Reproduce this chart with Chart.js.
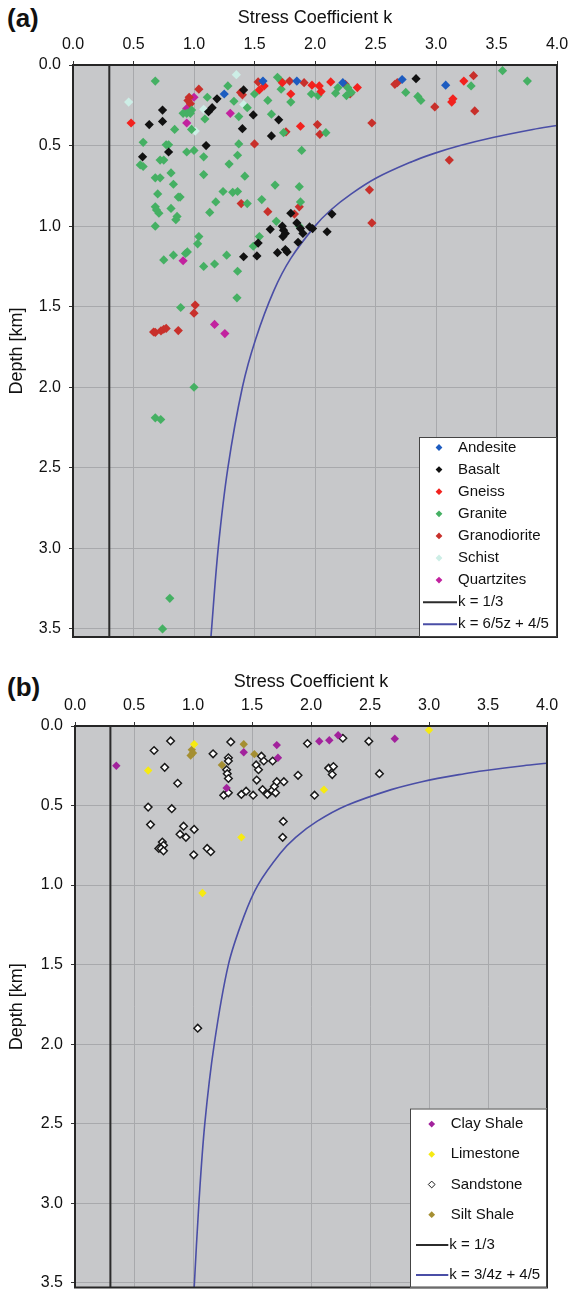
<!DOCTYPE html>
<html>
<head>
<meta charset="utf-8">
<script src="https://cdn.jsdelivr.net/npm/chart.js@4.4.1/dist/chart.umd.min.js"></script>
<style>
  html, body { margin: 0; padding: 0; background: #fff; }
  body { width: 568px; height: 1293px; position: relative; overflow: hidden; font-family: "Liberation Sans", Arial, sans-serif; }
  .wrap { position: absolute; left: 0; width: 568px; }
  .tag { position: absolute; left: 7px; font-weight: bold; font-size: 26px; color: #111; }
</style>
</head>
<body>
<div class="tag" style="top:3px">(a)</div>
<div class="wrap" style="top:0;height:645px"><canvas id="chartA"></canvas></div>
<div class="tag" style="top:672px">(b)</div>
<div class="wrap" style="top:661px;height:632px"><canvas id="chartB"></canvas></div>
<script>
// values: [k, depth km]
const xTicks = [0, 0.5, 1, 1.5, 2, 2.5, 3, 3.5, 4];
const yTicks = [0, 0.5, 1, 1.5, 2, 2.5, 3, 3.5];

// ---- panel (a) ----
const andesite = [[1.25,0.18],[1.57,0.10],[1.85,0.10],[2.23,0.11],[2.72,0.09],[3.08,0.125]];
const basalt = [[0.63,0.37],[0.74,0.28],[0.74,0.35],[1.12,0.29],[1.15,0.265],[1.19,0.21],[1.41,0.155],
  [1.40,0.395],[1.49,0.31],[1.70,0.34],[1.64,0.44],[0.575,0.57],[0.79,0.54],[1.10,0.50],[1.41,1.19],
  [1.52,1.185],[1.53,1.105],[1.63,1.02],[1.69,1.165],[1.73,1.0],[1.74,1.025],[1.755,1.045],[1.735,1.065],
  [1.755,1.145],[1.77,1.16],[1.80,0.92],[1.85,0.98],[1.86,1.10],[1.88,1.015],[1.90,1.045],[1.955,1.005],
  [1.98,1.015],[2.10,1.035],[2.14,0.925],[2.835,0.085]];
const gneiss = [[0.48,0.36],[1.54,0.155],[1.58,0.13],[1.73,0.11],[1.80,0.18],[1.88,0.38],[1.975,0.125],
  [2.035,0.13],[2.05,0.165],[2.13,0.105],[2.35,0.14],[3.13,0.23],[3.14,0.21],[3.23,0.10]];
const granite = [[0.68,0.10],[0.84,0.40],[0.91,0.30],[0.94,0.30],[0.98,0.28],[0.97,0.30],[0.98,0.40],
  [1.09,0.335],[1.11,0.20],[1.28,0.13],[1.33,0.225],[1.44,0.265],[1.37,0.32],[1.50,0.18],[1.69,0.076],
  [1.61,0.22],[1.64,0.305],[1.74,0.42],[1.72,0.10],[1.72,0.15],[1.80,0.23],[1.89,0.53],[0.58,0.48],
  [0.556,0.62],[0.58,0.63],[0.72,0.59],[0.75,0.59],[0.77,0.495],[0.79,0.495],[0.94,0.54],[1.00,0.53],
  [1.08,0.57],[1.08,0.68],[0.68,0.70],[0.72,0.70],[0.81,0.67],[0.83,0.74],[0.70,0.80],[0.87,0.82],
  [0.885,0.82],[0.68,0.88],[0.69,0.90],[0.71,0.92],[0.81,0.89],[0.85,0.96],[0.86,0.94],[0.68,1.0],
  [1.13,0.915],[1.18,0.85],[1.24,0.785],[1.32,0.79],[1.36,0.785],[1.44,0.86],[1.29,0.615],[1.37,0.49],
  [1.36,0.56],[1.42,0.69],[1.56,0.835],[1.67,0.745],[1.68,0.97],[1.04,1.065],[1.03,1.11],[0.945,1.16],
  [0.93,1.17],[0.83,1.18],[0.75,1.21],[1.08,1.25],[1.17,1.235],[1.27,1.18],[1.36,1.28],[1.49,1.125],
  [1.54,1.065],[1.87,0.755],[1.88,0.85],[1.87,1.0],[1.355,1.445],[0.89,1.505],[1.97,0.18],[2.025,0.19],
  [2.17,0.175],[2.19,0.14],[2.26,0.19],[2.27,0.14],[2.30,0.17],[2.09,0.42],[2.75,0.17],[2.85,0.195],
  [2.875,0.22],[3.29,0.13],[3.55,0.035],[3.755,0.10],[1.00,2.0],[0.68,2.19],[0.725,2.20],[0.80,3.31],
  [0.74,3.50]];
const granodiorite = [[1.04,0.15],[0.96,0.20],[0.95,0.22],[0.97,0.24],[1.385,0.17],[1.40,0.185],[1.53,0.105],
  [1.76,0.415],[1.50,0.49],[1.79,0.10],[1.91,0.11],[1.39,0.86],[1.61,0.91],[1.83,0.925],[1.87,0.88],
  [1.01,1.49],[1.00,1.54],[2.45,0.775],[2.47,0.98],[3.11,0.59],[2.47,0.36],[2.25,0.12],[2.29,0.18],
  [2.02,0.37],[2.04,0.43],[2.66,0.12],[2.68,0.11],[2.99,0.26],[3.31,0.066],[3.32,0.285],[0.666,1.657],
  [0.68,1.66],[0.727,1.65],[0.75,1.64],[0.77,1.635],[0.87,1.648]];
const schist = [[0.46,0.23],[1.01,0.41],[1.08,0.275],[1.35,0.06],[1.41,0.245]];
const quartzites = [[1.0,0.20],[0.94,0.27],[0.94,0.36],[1.30,0.30],[0.91,1.215],[1.17,1.61],[1.255,1.667]];
const curveADepth = [0.375, 0.4, 0.45, 0.5, 0.55, 0.6, 0.7, 0.8, 0.9, 1.0, 1.2, 1.4, 1.7, 2.0, 2.5, 3.0, 3.55];
const curveAK = [4.0, 3.8, 3.47, 3.2, 2.98, 2.8, 2.51, 2.3, 2.13, 2.0, 1.8, 1.66, 1.51, 1.4, 1.28, 1.2, 1.14];

// ---- panel (b) ----
const clayShale = [[0.35,0.25],[1.43,0.165],[1.71,0.12],[1.72,0.20],[1.285,0.39],[2.07,0.096],[2.155,0.09],
  [2.23,0.058],[2.71,0.08]];
const limestone = [[1.01,0.115],[0.62,0.28],[1.41,0.70],[1.08,1.05],[3.0,0.025],[2.11,0.40]];
const sandstone = [[0.81,0.094],[0.67,0.154],[0.76,0.26],[0.87,0.36],[0.62,0.51],[0.82,0.52],[0.64,0.62],
  [0.92,0.63],[0.89,0.68],[0.94,0.70],[1.01,0.65],[0.74,0.73],[0.75,0.75],[0.71,0.77],[0.73,0.77],
  [0.75,0.785],[1.006,0.81],[1.12,0.77],[1.15,0.79],[1.17,0.175],[1.32,0.10],[1.30,0.20],[1.30,0.22],
  [1.285,0.275],[1.29,0.30],[1.30,0.33],[1.26,0.435],[1.30,0.42],[1.41,0.43],[1.45,0.41],[1.51,0.435],
  [1.54,0.34],[1.535,0.245],[1.555,0.275],[1.58,0.19],[1.60,0.22],[1.675,0.22],[1.59,0.40],[1.63,0.43],
  [1.67,0.405],[1.69,0.38],[1.71,0.35],[1.70,0.42],[1.77,0.35],[1.765,0.60],[1.76,0.70],[1.89,0.31],
  [1.97,0.11],[2.27,0.077],[2.49,0.096],[2.15,0.265],[2.19,0.255],[2.18,0.305],[2.58,0.30],[2.03,0.435],
  [1.04,1.90]];
const siltShale = [[1.43,0.115],[0.99,0.15],[1.0,0.17],[0.98,0.185],[1.52,0.177],[1.245,0.245]];
const curveBDepth = [0.234, 0.25, 0.28, 0.3, 0.35, 0.4, 0.5, 0.6, 0.7, 0.8, 1.0, 1.2, 1.5, 2.0, 2.5, 3.0, 3.53];
const curveBK = [4.0, 3.8, 3.48, 3.3, 2.94, 2.68, 2.3, 2.05, 1.87, 1.74, 1.55, 1.43, 1.3, 1.18, 1.1, 1.05, 1.01];

const kLine = 0.3; // vertical line as drawn

const FONT = '"Liberation Sans", Arial, sans-serif';

const pts = arr => arr.map(p => ({ x: p[0], y: p[1] }));
const curve = (ks, ds) => ks.map((k, i) => ({ x: k, y: ds[i] }));

function scatterSet(label, arr, color, extra) {
  return Object.assign({
    label, data: pts(arr), pointStyle: 'rectRot', pointRadius: 4.6,
    backgroundColor: color, borderColor: color, borderWidth: 0, order: 1
  }, extra || {});
}
function lineSet(label, data, color, width) {
  return {
    label, data, showLine: true, pointRadius: 0, borderColor: color, backgroundColor: color,
    borderWidth: width, tension: 0.35, order: 2
  };
}

const framePlugin = {
  id: 'frame',
  beforeDraw(chart) {
    const { ctx, chartArea: a } = chart;
    ctx.save();
    ctx.fillStyle = '#c7c8ca';
    ctx.fillRect(a.left, a.top, a.right - a.left, a.bottom - a.top);
    ctx.restore();
  },
  afterDatasetsDraw(chart, args, opts) {
    const { ctx, chartArea: a } = chart;
    ctx.save();
    ctx.strokeStyle = '#262626';
    ctx.lineWidth = 2;
    ctx.strokeRect(a.left, a.top, a.right - a.left, a.bottom - a.top);
    // legend box in lower right, entries taken from the datasets
    if (opts && opts.w) {
      const x0 = a.right - opts.w, y0 = a.bottom - opts.h;
      ctx.fillStyle = '#fff';
      ctx.fillRect(x0, y0, opts.w, opts.h);
      ctx.strokeStyle = '#444';
      ctx.lineWidth = 1;
      ctx.strokeRect(x0 + 0.5, y0 + 0.5, opts.w - 1, opts.h - 1);
      ctx.font = '15px ' + FONT;
      ctx.textBaseline = 'middle';
      ctx.textAlign = 'left';
      chart.data.datasets.forEach((ds, i) => {
        const y = y0 + opts.first + i * opts.row;
        if (ds.showLine) {
          ctx.strokeStyle = ds.borderColor;
          ctx.lineWidth = 2;
          ctx.beginPath();
          ctx.moveTo(x0 + opts.lineFrom, y);
          ctx.lineTo(x0 + opts.lineTo, y);
          ctx.stroke();
          ctx.fillStyle = '#111';
          ctx.fillText(ds.label, x0 + opts.lineTo + 1, y);
        } else {
          ctx.fillStyle = ds.backgroundColor;
          ctx.strokeStyle = ds.borderColor;
          Chart.helpers.drawPoint(ctx, {
            pointStyle: 'rectRot', radius: 3.4, rotation: 0,
            borderWidth: ds.borderWidth ? 1.2 : 0
          }, x0 + opts.mark, y);
          ctx.fillStyle = '#111';
          ctx.fillText(ds.label, x0 + opts.text, y);
        }
      });
    }
    ctx.restore();
  }
};

function makeChart(id, datasets, cfg) {
  return new Chart(document.getElementById(id), {
    type: 'scatter',
    data: { datasets },
    plugins: [framePlugin],
    options: {
      responsive: true,
      maintainAspectRatio: false,
      animation: false,
      layout: { padding: { top: 0, left: 0, right: cfg.padRight, bottom: cfg.padBottom } },
      plugins: {
        legend: { display: false },
        tooltip: { enabled: false },
        frame: cfg.legend
      },
      scales: {
        x: {
          type: 'linear', position: 'top', min: 0, max: 4,
          afterFit(s) { s.height = cfg.top; s.paddingLeft = 0; s.paddingRight = 0; },
          afterBuildTicks(s) { s.ticks = xTicks.map(v => ({ value: v })); },
          ticks: { callback: v => Number(v).toFixed(1), color: '#111', font: { family: FONT, size: 16 }, padding: 7, maxRotation: 0 },
          grid: { color: '#a8a9ac', lineWidth: 1, tickLength: 4, tickColor: '#333' },
          border: { display: false },
          title: { display: true, text: 'Stress Coefficient k', color: '#111', font: { family: FONT, size: 18 }, padding: { top: cfg.titleTop, bottom: 0 } }
        },
        y: {
          type: 'linear', reverse: true, min: 0, max: cfg.yMax,
          afterFit(s) { s.width = cfg.left; s.paddingTop = 0; s.paddingBottom = 0; },
          afterBuildTicks(s) { s.ticks = yTicks.map(v => ({ value: v })); },
          ticks: { callback: v => Number(v).toFixed(1), color: '#111', font: { family: FONT, size: 16 }, padding: 8 },
          grid: { color: '#a8a9ac', lineWidth: 1, tickLength: 4, tickColor: '#333' },
          border: { display: false },
          title: { display: true, text: 'Depth [km]', color: '#111', font: { family: FONT, size: 18 }, padding: { top: 6, bottom: 0 } }
        }
      }
    }
  });
}

makeChart('chartA', [
  scatterSet('Andesite', andesite, '#1d5cc0'),
  scatterSet('Basalt', basalt, '#111111'),
  scatterSet('Gneiss', gneiss, '#f2221e'),
  scatterSet('Granite', granite, '#45b063'),
  scatterSet('Granodiorite', granodiorite, '#c8302b'),
  scatterSet('Schist', schist, '#cdeee6'),
  scatterSet('Quartzites', quartzites, '#c2229f'),
  lineSet('k = 1/3', [{ x: kLine, y: 0 }, { x: kLine, y: 3.55 }], '#2b2b2b', 2),
  lineSet('k = 6/5z + 4/5', curve(curveAK, curveADepth), '#4a4ea6', 1.6)
], {
  top: 65, titleTop: 7, left: 73, padRight: 11, padBottom: 8, yMax: 3.55,
  legend: { w: 138, h: 200, first: 10.5, row: 22.1, mark: 20, text: 39, lineFrom: 4, lineTo: 38 }
});

makeChart('chartB', [
  scatterSet('Clay Shale', clayShale, '#a2229c', { pointRadius: 4.2 }),
  scatterSet('Limestone', limestone, '#f6ea12', { pointRadius: 4.2 }),
  scatterSet('Sandstone', sandstone, '#ffffff', { pointRadius: 3.8, borderColor: '#1a1a1a', borderWidth: 1.5 }),
  scatterSet('Silt Shale', siltShale, '#a58f32', { pointRadius: 4.2 }),
  lineSet('k = 1/3', [{ x: kLine, y: 0 }, { x: kLine, y: 3.53 }], '#2b2b2b', 2),
  lineSet('k = 3/4z + 4/5', curve(curveBK, curveBDepth), '#4a4ea6', 1.6)
], {
  top: 65, titleTop: 10, left: 75, padRight: 21, padBottom: 1, yMax: 3.53,
  legend: { w: 137, h: 179, first: 15.6, row: 30.2, mark: 21.7, text: 40.7, lineFrom: 6, lineTo: 38.3 }
});
</script>
</body>
</html>
